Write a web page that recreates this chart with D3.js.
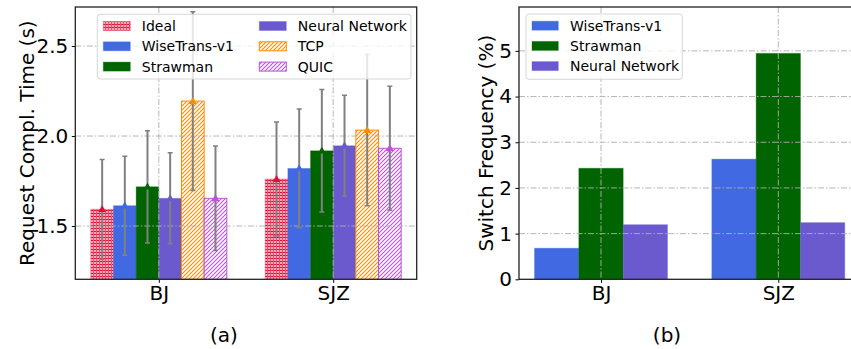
<!DOCTYPE html>
<html>
<head>
<meta charset="utf-8">
<script src="https://cdn.jsdelivr.net/npm/d3@7"></script>
<style>
  body { margin: 0; background: #fff; }
  svg { font-family: "DejaVu Sans", sans-serif; }
</style>
</head>
<body>
<div id="chart"></div>
<script>
// data
const cities = ["BJ", "SJZ"];
const methods = ["Ideal", "WiseTrans-v1", "Strawman", "Neural Network", "TCP", "QUIC"];
const rctMeanBJ = [1.593, 1.613, 1.718, 1.654, 2.194, 1.654];
const rctMeanSJZ = [1.761, 1.820, 1.918, 1.946, 2.033, 1.932];
const rctStdBJ = [0.277, 0.275, 0.312, 0.253, 0.497, 0.290];
const rctStdSJZ = [0.317, 0.330, 0.340, 0.280, 0.420, 0.345];
const rctTicks = [1.5, 2.0, 2.5];

const switchMethods = ["WiseTrans-v1", "Strawman", "Neural Network"];
const switchBJ = [0.68, 2.43, 1.195];
const switchSJZ = [2.63, 4.945, 1.24];
const switchTicks = [0, 1, 2, 3, 4, 5];

const colors = {
  "Ideal": "crimson",
  "WiseTrans-v1": "royalblue",
  "Strawman": "darkgreen",
  "Neural Network": "slateblue",
  "TCP": "darkorange",
  "QUIC": "mediumorchid"
};

const tickFont = 20, labelFont = 20, legendFont = 14;

const svg = d3.select("#chart").append("svg")
  .attr("width", 851)
  .attr("height", 349);

// patterns
const defs = svg.append("defs");
const pIdeal = defs.append("pattern").attr("id", "pat-Ideal")
  .attr("patternUnits", "userSpaceOnUse").attr("width", 3).attr("height", 3);
pIdeal.append("rect").attr("width", 3).attr("height", 3).attr("fill", "#f4a8b8");
pIdeal.append("rect").attr("width", 3).attr("height", 1).attr("fill", "crimson");
pIdeal.append("rect").attr("width", 1).attr("height", 3).attr("fill", "#e8506e");

["TCP", "QUIC"].forEach(m => {
  const p = defs.append("pattern").attr("id", "pat-" + m)
    .attr("patternUnits", "userSpaceOnUse").attr("width", 4).attr("height", 4);
  p.append("rect").attr("width", 4).attr("height", 4).attr("fill", "#fff");
  p.append("path").attr("d", "M-1,1 l2,-2 M0,4 l4,-4 M3,5 l2,-2")
    .attr("stroke", colors[m]).attr("stroke-width", 1.1);
});

const fillOf = m => (m === "Ideal" || m === "TCP" || m === "QUIC") ? `url(#pat-${m})` : colors[m];

function drawGrid(g, x, y, yTicks, x0, x1, y0, y1) {
  g.selectAll(".gy").data(yTicks).join("line")
    .attr("x1", x0).attr("x2", x1)
    .attr("y1", d => y(d)).attr("y2", d => y(d))
    .attr("stroke", "#b0b0b0").attr("stroke-width", 1).attr("stroke-dasharray", "6,2,1.5,2")
    .attr("opacity", 0.9);
  g.selectAll(".gx").data([0, 1]).join("line")
    .attr("x1", d => x(d)).attr("x2", d => x(d))
    .attr("y1", y0).attr("y2", y1)
    .attr("stroke", "#b0b0b0").attr("stroke-width", 1).attr("stroke-dasharray", "6,2,1.5,2")
    .attr("opacity", 0.9);
}

function styleAxis(g) {
  g.selectAll("text").attr("font-size", tickFont).attr("fill", "#000").attr("font-family", "DejaVu Sans");
  g.selectAll("line").attr("stroke", "#000");
  g.select(".domain").remove();
}

// ---------- (a) request completion time ----------
const aL = 75.3, aR = 416.7, aT = 7, aB = 279.3;
const xa = d3.scaleLinear().domain([-0.479, 1.479]).range([aL, aR]);
const ya = d3.scaleLinear().domain([1.204, 2.717]).range([aB, aT]);
const bwA = 0.13;

const rctRows = [];
cities.forEach((c, ci) => {
  const means = ci === 0 ? rctMeanBJ : rctMeanSJZ;
  const stds = ci === 0 ? rctStdBJ : rctStdSJZ;
  methods.forEach((m, mi) => {
    rctRows.push({ m, xc: ci + (mi - 2.5) * bwA, mean: means[mi], std: stds[mi] });
  });
});

const ga = svg.append("g");
ga.append("defs").append("clipPath").attr("id", "clipA")
  .append("rect").attr("x", aL).attr("y", aT).attr("width", aR - aL).attr("height", aB - aT);
const plotA = ga.append("g").attr("clip-path", "url(#clipA)");

plotA.selectAll("rect.bar").data(rctRows).join("rect")
  .attr("class", "bar")
  .attr("x", d => xa(d.xc - bwA / 2))
  .attr("width", d => xa(bwA) - xa(0))
  .attr("y", d => ya(d.mean))
  .attr("height", d => aB - ya(d.mean))
  .attr("fill", d => fillOf(d.m))
  .attr("stroke", d => colors[d.m])
  .attr("stroke-opacity", d => (d.m === "TCP" || d.m === "QUIC") ? 1 : 0.35)
  .attr("stroke-width", 1);

drawGrid(plotA, xa, ya, rctTicks, aL, aR, aT, aB);

// error bars
const eb = plotA.selectAll("g.eb").data(rctRows).join("g").attr("class", "eb");
eb.append("line")
  .attr("x1", d => xa(d.xc)).attr("x2", d => xa(d.xc))
  .attr("y1", d => ya(d.mean - d.std)).attr("y2", d => ya(d.mean + d.std))
  .attr("stroke", "grey").attr("stroke-width", 2);
[-1, 1].forEach(s => {
  eb.append("line")
    .attr("x1", d => xa(d.xc) - 2.5).attr("x2", d => xa(d.xc) + 2.5)
    .attr("y1", d => ya(d.mean + s * d.std)).attr("y2", d => ya(d.mean + s * d.std))
    .attr("stroke", "grey").attr("stroke-width", 1.5);
});
eb.append("path")
  .attr("d", d3.symbol().type(d3.symbolTriangle).size(28))
  .attr("transform", d => `translate(${xa(d.xc)},${ya(d.mean) + 0.5})`)
  .attr("fill", d => colors[d.m]);

// axes a
const axA = ga.append("g").attr("transform", `translate(${aL},0)`)
  .call(d3.axisLeft(ya).tickValues(rctTicks).tickFormat(d3.format(".1f")).tickSize(3.5).tickPadding(3.5));
styleAxis(axA);
const axAx = ga.append("g").attr("transform", `translate(0,${aB})`)
  .call(d3.axisBottom(xa).tickValues([0, 1]).tickFormat(i => cities[i]).tickSize(3.5).tickPadding(3.5));
styleAxis(axAx);

// legend a
const legA = ga.append("g");
legA.append("rect").attr("x", 97.3).attr("y", 14.3).attr("width", 313.7).attr("height", 64.7)
  .attr("rx", 3).attr("fill", "#fff").attr("fill-opacity", 0.8).attr("stroke", "#d6d6d6");
methods.forEach((m, i) => {
  const col = Math.floor(i / 3), row = i % 3;
  const sx = col === 0 ? 103.3 : 259.3;
  const cy = 26 + row * 20.3;
  legA.append("rect").attr("x", sx).attr("y", cy - 4.5).attr("width", 27).attr("height", 9)
    .attr("fill", fillOf(m)).attr("stroke", colors[m])
    .attr("stroke-opacity", (m === "TCP" || m === "QUIC") ? 1 : 0.35);
  legA.append("text").attr("x", sx + 38.5).attr("y", cy).attr("dy", "0.36em")
    .attr("font-size", legendFont).text(m);
});

ga.append("rect").attr("x", aL).attr("y", aT).attr("width", aR - aL).attr("height", aB - aT)
  .attr("fill", "none").attr("stroke", "#222").attr("stroke-width", 1.3);

ga.append("text").attr("transform", `translate(27,${(aT + aB) / 2}) rotate(-90)`)
  .attr("text-anchor", "middle").attr("dy", "0.36em").attr("font-size", labelFont).text("Request Compl. Time (s)");
ga.append("text").attr("x", 224).attr("y", 335).attr("text-anchor", "middle").attr("dy", "0.36em")
  .attr("font-size", labelFont).text("(a)");

// ---------- (b) switch frequency ----------
const bL = 519, bT = 7, bB = 279.3;
const xb = d3.scaleLinear().domain([-0.4625, 1.4625]).range([bL, bL + 1.925 * 177.3]);
const bR = xb(1.4625);
const yb = d3.scaleLinear().domain([0, 5.96]).range([bB, bT]);
const bwB = 0.25;

const swRows = [];
cities.forEach((c, ci) => {
  const vals = ci === 0 ? switchBJ : switchSJZ;
  switchMethods.forEach((m, mi) => swRows.push({ m, xc: ci + (mi - 1) * bwB, v: vals[mi] }));
});

const gb = svg.append("g");
gb.selectAll("rect.bar").data(swRows).join("rect")
  .attr("x", d => xb(d.xc - bwB / 2))
  .attr("width", d => xb(bwB) - xb(0))
  .attr("y", d => yb(d.v))
  .attr("height", d => bB - yb(d.v))
  .attr("fill", d => colors[d.m])
  .attr("stroke", d => colors[d.m]).attr("stroke-opacity", 0.35).attr("stroke-width", 1);

drawGrid(gb, xb, yb, switchTicks.slice(1), bL, bR, bT, bB);

const axB = gb.append("g").attr("transform", `translate(${bL},0)`)
  .call(d3.axisLeft(yb).tickValues(switchTicks).tickFormat(d3.format("d")).tickSize(3.5).tickPadding(3.5));
styleAxis(axB);
const axBx = gb.append("g").attr("transform", `translate(0,${bB})`)
  .call(d3.axisBottom(xb).tickValues([0, 1]).tickFormat(i => cities[i]).tickSize(3.5).tickPadding(3.5));
styleAxis(axBx);

const legB = gb.append("g");
legB.append("rect").attr("x", 526).attr("y", 14).attr("width", 156.3).attr("height", 65.3)
  .attr("rx", 3).attr("fill", "#fff").attr("fill-opacity", 0.8).attr("stroke", "#d6d6d6");
switchMethods.forEach((m, i) => {
  const cy = 25.7 + i * 20.2;
  legB.append("rect").attr("x", 532).attr("y", cy - 4.5).attr("width", 26.3).attr("height", 9)
    .attr("fill", colors[m]).attr("stroke", colors[m]).attr("stroke-opacity", 0.35);
  legB.append("text").attr("x", 570).attr("y", cy).attr("dy", "0.36em")
    .attr("font-size", legendFont).text(m);
});

gb.append("rect").attr("x", bL).attr("y", bT).attr("width", bR - bL).attr("height", bB - bT)
  .attr("fill", "none").attr("stroke", "#222").attr("stroke-width", 1.3);

gb.append("text").attr("transform", `translate(486,${(bT + bB) / 2}) rotate(-90)`)
  .attr("text-anchor", "middle").attr("dy", "0.36em").attr("font-size", labelFont).text("Switch Frequency (%)");
gb.append("text").attr("x", 667).attr("y", 335).attr("text-anchor", "middle").attr("dy", "0.36em")
  .attr("font-size", labelFont).text("(b)");
</script>
</body>
</html>
